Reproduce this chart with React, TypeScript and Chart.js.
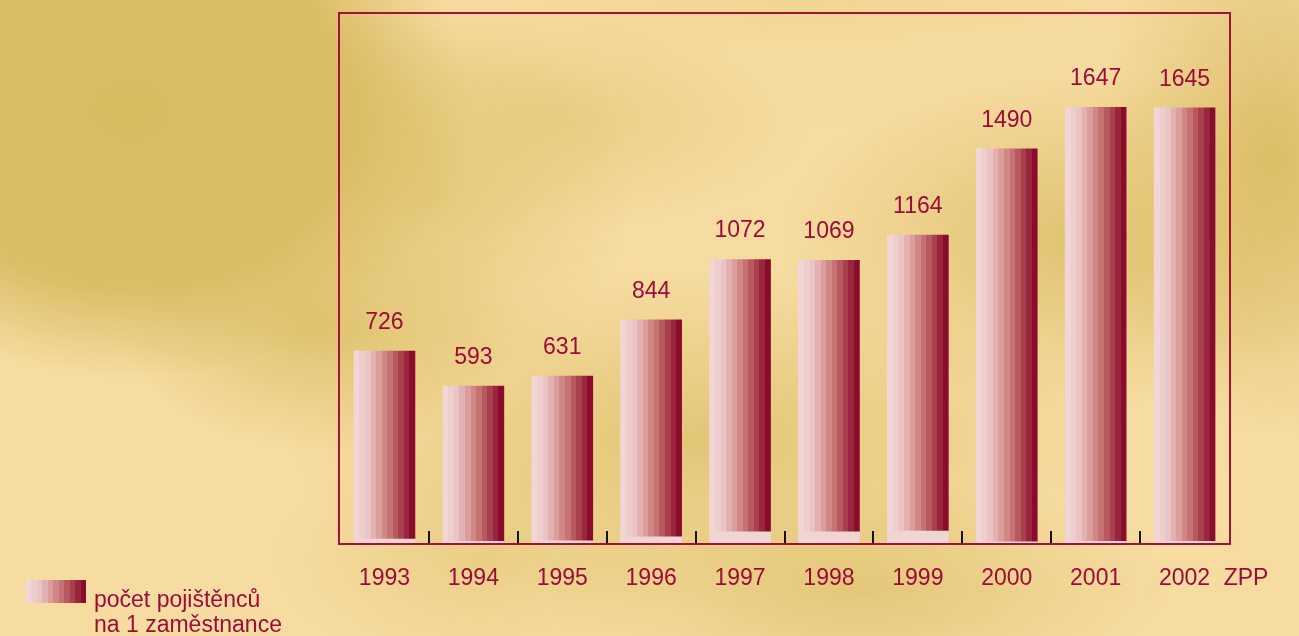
import React, { useEffect, useRef } from "react";
import { Chart, registerables } from "chart.js";

Chart.register(...registerables);

// ---- data ----
const years = ["1993", "1994", "1995", "1996", "1997", "1998", "1999", "2000", "2001", "2002"];
const totals = [726, 593, 631, 844, 1072, 1069, 1164, 1490, 1647, 1645];
const baseStrip = [15, 6, 8, 23, 42, 42, 45, 4, 6, 6];
const extraLabel = "ZPP";
const legendLines = ["počet pojištěnců", "na 1 zaměstnance"];
const yMax = 2000;

const TEXT = "#9c0c3a";
const FRAME = "#a3123f";
const BAR_W = 61;
const FONT = '23px "Liberation Sans", Arial, Helvetica, sans-serif';

const bandColors = [
  [242, 214, 214],
  [234, 196, 196],
  [218, 158, 156],
  [198, 114, 114],
  [168, 64, 78],
  [138, 12, 44],
];

function lerpColor(t: number) {
  const n = bandColors.length - 1;
  const p = Math.min(n - 1e-6, Math.max(0, t * n));
  const i = Math.floor(p);
  const f = p - i;
  const a = bandColors[i];
  const b = bandColors[i + 1];
  const c = a.map((v, k) => Math.round(v + (b[k] - v) * f));
  return `rgb(${c[0]},${c[1]},${c[2]})`;
}

function makeGrad(ctx: CanvasRenderingContext2D, x0: number, x1: number) {
  const g = ctx.createLinearGradient(x0, 0, x1, 0);
  const steps = 11;
  for (let s = 0; s < steps; s++) {
    const col = lerpColor(s / (steps - 1));
    g.addColorStop(s / steps, col);
    g.addColorStop(Math.min(1, (s + 1) / steps - 0.0001), col);
  }
  return g;
}

const overlayPlugin = {
  id: "overlay",
  afterDatasetsDraw(chart: any) {
    const { ctx, chartArea } = chart;
    const xs = chart.scales.x;
    const ys = chart.scales.y;
    const catW = (chartArea.right - chartArea.left) / years.length;
    ctx.save();
    // frame
    ctx.strokeStyle = FRAME;
    ctx.lineWidth = 2;
    ctx.strokeRect(339, 13, 891, 531);
    // ticks between categories
    ctx.strokeStyle = "#141414";
    ctx.lineWidth = 2;
    for (let i = 1; i < years.length; i++) {
      const x = Math.round(chartArea.left + i * catW);
      ctx.beginPath();
      ctx.moveTo(x, chartArea.bottom - 12);
      ctx.lineTo(x, chartArea.bottom);
      ctx.stroke();
    }
    // labels
    ctx.fillStyle = TEXT;
    ctx.font = FONT;
    ctx.textAlign = "center";
    ctx.textBaseline = "alphabetic";
    totals.forEach((v, i) => {
      const x = xs.getPixelForValue(i);
      const y = ys.getPixelForValue(v);
      ctx.fillText(String(v), x, y - 22);
      ctx.fillText(years[i], x, 585);
    });
    ctx.fillText(extraLabel, 1246, 585);
    // legend
    ctx.fillStyle = makeGrad(ctx, 26, 86);
    ctx.fillRect(26, 580, 60, 23);
    ctx.fillStyle = TEXT;
    ctx.textAlign = "left";
    ctx.fillText(legendLines[0], 94, 607);
    ctx.fillText(legendLines[1], 94, 632);
    ctx.restore();
  },
};

export default function App() {
  const ref = useRef<HTMLCanvasElement>(null);
  useEffect(() => {
    if (!ref.current) return;
    const chart = new Chart(ref.current, {
      type: "bar",
      data: {
        labels: years,
        datasets: [
          {
            label: "base",
            data: baseStrip,
            backgroundColor: "#f0d5d3",
            borderWidth: 0,
            barThickness: BAR_W,
            stack: "s",
          },
          {
            label: legendLines.join(" "),
            data: totals.map((t, i) => t - baseStrip[i]),
            backgroundColor: (c: any) => {
              const chart = c.chart;
              const xs = chart.scales && chart.scales.x;
              if (!xs || c.dataIndex == null) return "#c06070";
              const cx = xs.getPixelForValue(c.dataIndex);
              if (!isFinite(cx)) return "#c06070";
              return makeGrad(chart.ctx, cx - BAR_W / 2, cx + BAR_W / 2);
            },
            borderWidth: 0,
            barThickness: BAR_W,
            stack: "s",
          },
        ],
      },
      options: {
        animation: false,
        responsive: false,
        devicePixelRatio: 1,
        layout: { padding: { left: 340, right: 70, top: 14, bottom: 93 } },
        plugins: { legend: { display: false }, tooltip: { enabled: false } },
        scales: {
          x: { display: false, stacked: true, grid: { display: false } },
          y: { display: false, stacked: true, min: 0, max: yMax },
        },
      },
      plugins: [overlayPlugin],
    });
    chart.update();
    return () => chart.destroy();
  }, []);

  const bg = [
    "radial-gradient(ellipse 340px 270px at 130px 110px, rgba(216,186,96,0.97), rgba(216,186,96,0.9) 65%, rgba(216,186,96,0) 100%)",
    "radial-gradient(ellipse 200px 120px at 320px 330px, rgba(220,192,106,0.9), rgba(220,192,106,0) 100%)",
    "radial-gradient(ellipse 200px 200px at 430px 200px, rgba(222,194,108,0.7), rgba(222,194,108,0) 100%)",
    "radial-gradient(ellipse 250px 110px at 560px 120px, rgba(222,194,108,0.55), rgba(222,194,108,0) 100%)",
    "radial-gradient(ellipse 420px 170px at 700px 440px, rgba(222,194,110,0.85), rgba(222,194,110,0) 100%)",
    "radial-gradient(ellipse 300px 170px at 1080px 240px, rgba(220,190,104,0.85), rgba(220,190,104,0) 100%)",
    "radial-gradient(ellipse 180px 280px at 1270px 160px, rgba(218,188,100,0.95), rgba(218,188,100,0) 100%)",
    "radial-gradient(ellipse 320px 110px at 860px 590px, rgba(222,194,110,0.8), rgba(222,194,110,0) 100%)",
    "radial-gradient(ellipse 220px 120px at 480px 560px, rgba(226,200,118,0.6), rgba(226,200,118,0) 100%)",
    "radial-gradient(ellipse 400px 60px at 800px 0px, rgba(238,212,140,0.7), rgba(238,212,140,0) 100%)",
    "linear-gradient(#f6dba0, #f7dca2)",
  ].join(",");

  return (
    <div
      style={{
        position: "absolute",
        left: 0,
        top: 0,
        width: 1299,
        height: 636,
        overflow: "hidden",
        background: bg,
      }}
    >
      <canvas ref={ref} width={1299} height={636} style={{ display: "block", width: 1299, height: 636 }} />
    </div>
  );
}
